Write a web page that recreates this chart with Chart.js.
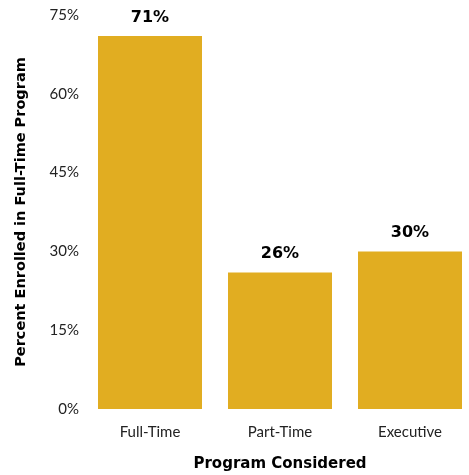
<!DOCTYPE html>
<html>
<head>
<meta charset="utf-8">
<script src="https://cdn.jsdelivr.net/npm/chart.js@4"></script>
<style>
html,body{margin:0;padding:0;background:#fff;overflow:hidden;width:469px;height:475px;}
#wrap{width:475px;height:475px;position:relative;}
</style>
</head>
<body>
<div id="wrap"><canvas id="c"></canvas></div>
<script>
const categories = ["Full-Time", "Part-Time", "Executive"];
const values = [71, 26, 30];
const yTicks = [0, 15, 30, 45, 60, 75];

const barColor = '#E1AD21';

const valueLabels = {
  id: 'valueLabels',
  afterDatasetsDraw(chart) {
    const ctx = chart.ctx;
    const meta = chart.getDatasetMeta(0);
    ctx.save();
    ctx.font = 'bold 16px "DejaVu Sans"';
    ctx.fillStyle = '#000';
    ctx.textAlign = 'center';
    ctx.textBaseline = 'alphabetic';
    meta.data.forEach((bar, i) => {
      ctx.fillText(values[i] + '%', bar.x, bar.y - 14);
    });
    ctx.restore();
  }
};

new Chart(document.getElementById('c'), {
  type: 'bar',
  data: {
    labels: categories,
    datasets: [{
      data: values,
      backgroundColor: barColor,
      borderWidth: 0,
      barPercentage: 0.8,
      categoryPercentage: 1.0
    }]
  },
  options: {
    responsive: true,
    maintainAspectRatio: false,
    animation: false,
    layout: { padding: { top: 8, right: 0, left: 0, bottom: 0 } },
    plugins: { legend: { display: false }, tooltip: { enabled: false } },
    scales: {
      x: {
        grid: { display: false, drawTicks: false },
        border: { display: false },
        ticks: { color: '#222', font: { family: 'Lato', size: 15 }, padding: 14 },
        title: {
          display: true,
          text: 'Program Considered',
          color: '#000',
          font: { family: 'DejaVu Sans', size: 15, weight: 'bold' },
          padding: { top: 4, bottom: 2 }
        },
        afterFit(scale) { scale.height = 66; }
      },
      y: {
        min: 0,
        max: 75,
        afterBuildTicks(scale) { scale.ticks = yTicks.map(v => ({ value: v })); },
        grid: { display: false, drawTicks: false },
        border: { display: false },
        ticks: {
          color: '#222',
          font: { family: 'Lato', size: 15 },
          padding: 6,
          callback: v => v + '%'
        },
        title: {
          display: true,
          text: 'Percent Enrolled in Full-Time Program',
          color: '#000',
          font: { family: 'DejaVu Sans', size: 14.5, weight: 'bold' },
          padding: { top: 13, bottom: 0 }
        },
        afterFit(scale) { scale.width = 85; }
      }
    }
  },
  plugins: [valueLabels]
});
</script>
</body>
</html>
